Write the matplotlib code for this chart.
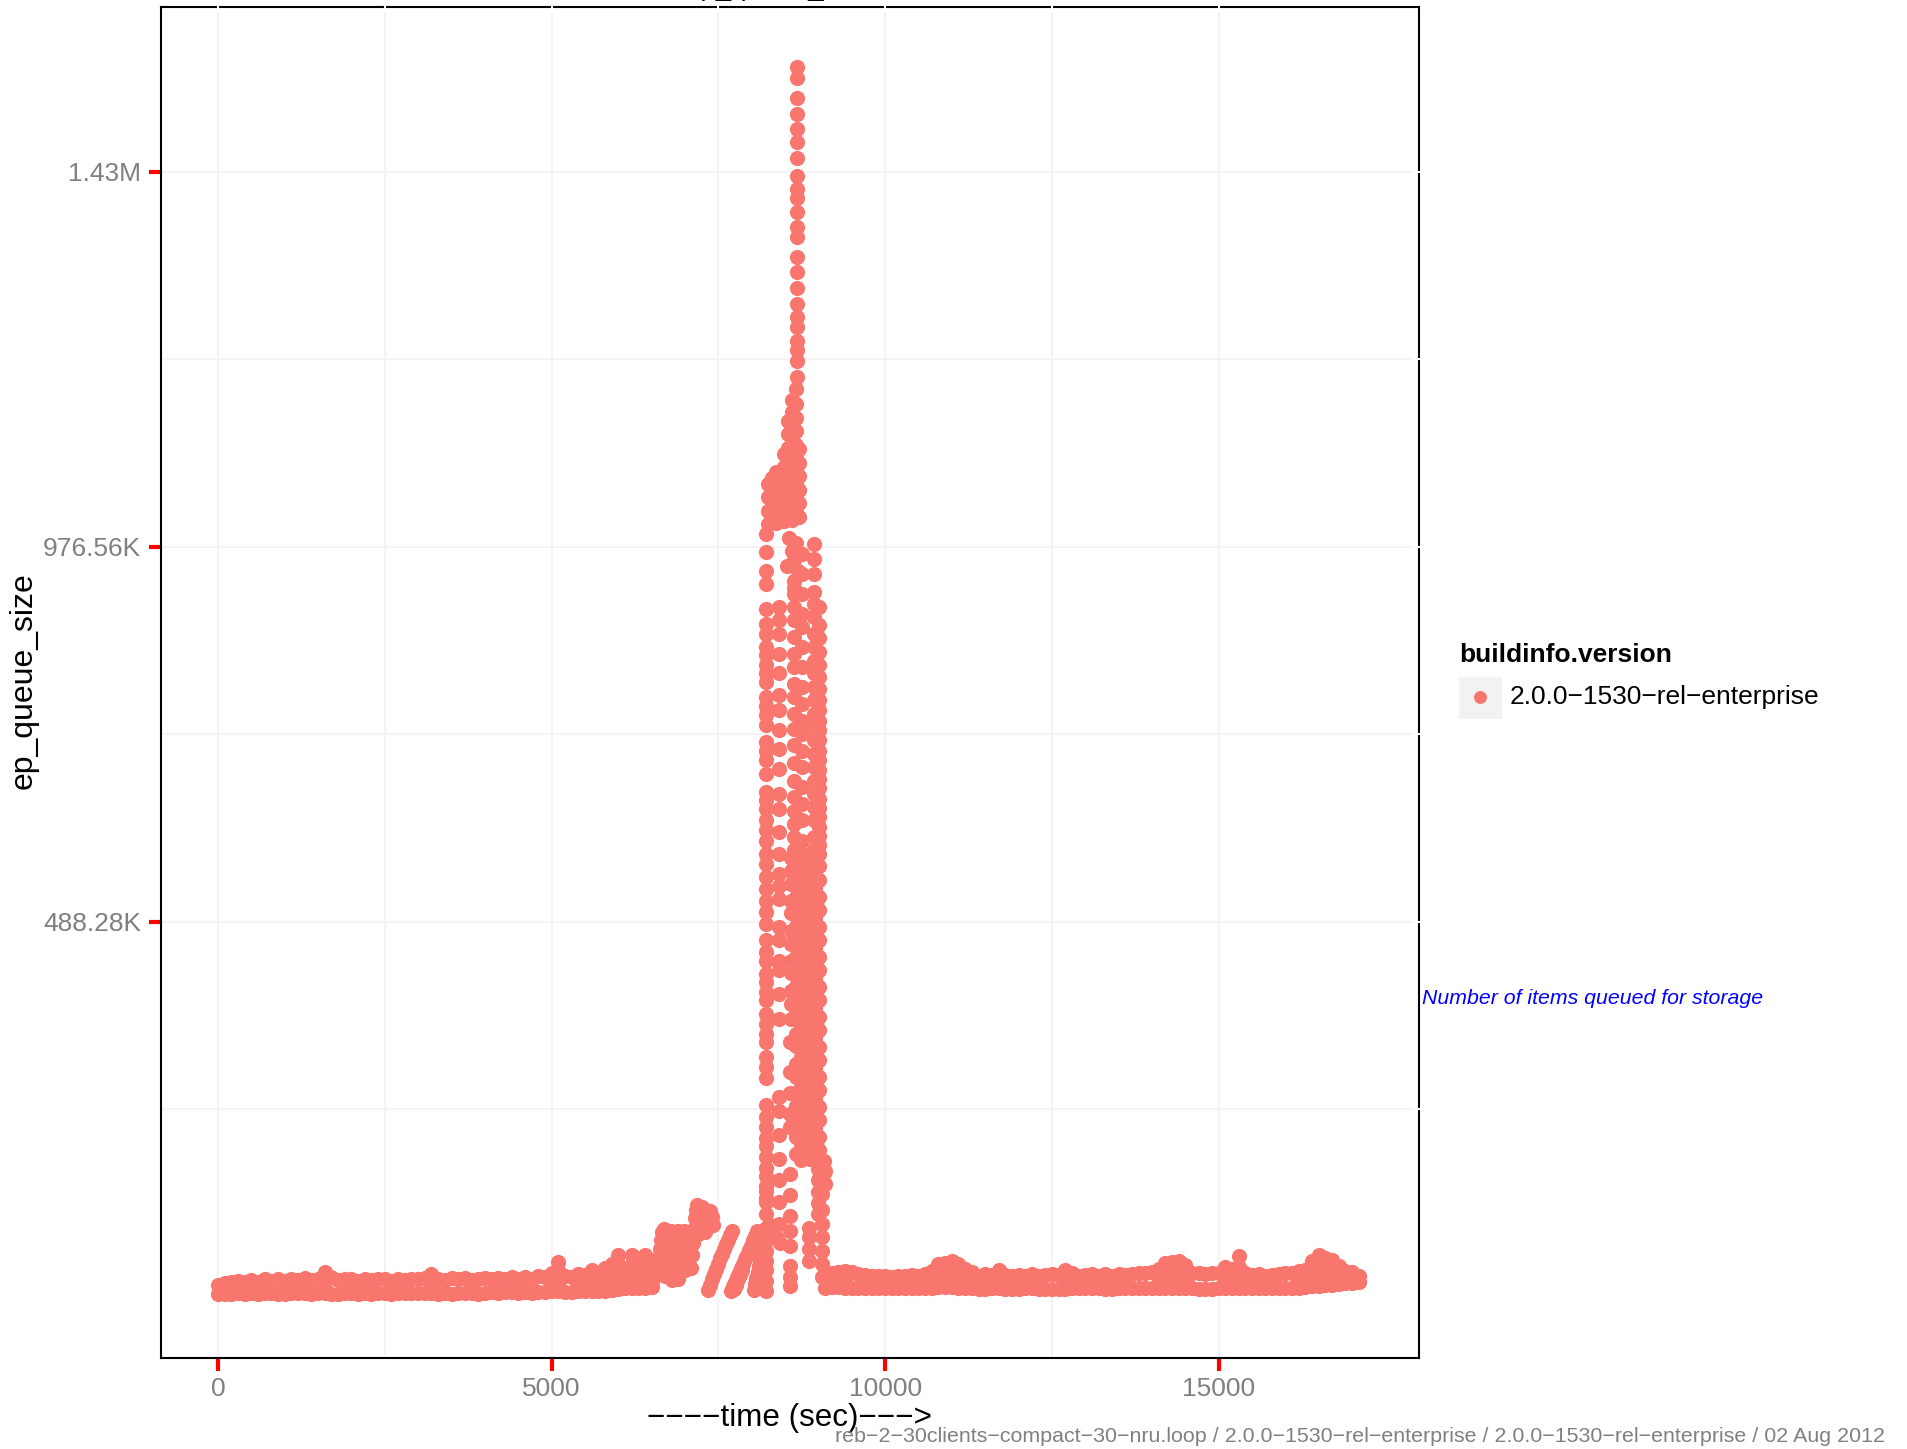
import numpy as np
import matplotlib.pyplot as plt
from matplotlib.patches import Rectangle
from matplotlib.lines import Line2D

plt.rcParams['font.family'] = ['Liberation Sans', 'DejaVu Sans']

# ---- data (time in sec, queue size in thousands of items) ----
# baseline before the rebalance: low / high samples every 100 s from t=0
base_a_start, base_a_step = 0, 100
base_a_lo = [3, 4, 4, 5, 4, 5, 4, 5, 5, 4,
             4, 5, 5, 5, 4, 5, 5, 4, 4, 5,
             5, 4, 5, 4, 5, 5, 4, 5, 5, 5,
             5, 5, 5, 4, 5, 4, 5, 5, 5, 4,
             5, 6, 5, 6, 6, 5, 6, 5, 6, 6,
             7, 7, 6, 6, 7, 7, 7, 8, 8, 9,
             10, 11, 11, 11, 12, 13]
base_a_hi = [15, 18, 19, 21, 19, 22, 20, 23, 21, 23,
             21, 23, 22, 25, 22, 24, 33, 26, 22, 24,
             23, 21, 24, 22, 24, 23, 21, 24, 22, 24,
             23, 25, 30, 23, 22, 25, 23, 25, 22, 24,
             25, 23, 25, 24, 26, 23, 26, 24, 27, 26,
             32, 46, 28, 26, 30, 29, 36, 30, 38, 43,
             55, 33, 55, 35, 55, 33]

# baseline after the spike: low / high samples every 100 s from t=9100
base_b_start, base_b_step = 9100, 100
base_b_lo = [12, 13, 13, 12, 12, 11, 11, 11, 11, 12,
             11, 11, 12, 12, 12, 12, 12, 13, 13, 13,
             12, 12, 11, 10, 10, 11, 11, 10, 10, 10,
             11, 11, 10, 10, 10, 10, 10, 11, 11, 11,
             11, 11, 10, 10, 11, 11, 11, 11, 11, 12,
             12, 12, 12, 12, 11, 11, 10, 10, 10, 11,
             11, 11, 11, 12, 12, 11, 11, 11, 11, 11,
             12, 12, 13, 14, 14, 15, 16, 17, 18, 18,
             19]
base_b_hi = [28, 31, 33, 34, 33, 30, 29, 27, 28, 27,
             26, 28, 27, 29, 27, 30, 34, 43, 45, 48,
             43, 37, 33, 28, 30, 29, 35, 29, 28, 29,
             28, 30, 28, 29, 30, 29, 35, 31, 28, 29,
             30, 28, 30, 28, 30, 29, 30, 31, 32, 33,
             37, 45, 46, 47, 42, 32, 31, 30, 31, 32,
             39, 37, 54, 32, 29, 30, 28, 29, 30, 31,
             32, 34, 35, 47, 55, 52, 49, 41, 34, 33,
             27]

# extra samples inside the baseline bumps
bump_t = [1600, 1600, 3200, 5000, 5100, 5100, 5100, 5400, 5500, 5600, 5600, 5700,
          5800, 5800, 5900, 5900, 6000, 6000, 6000, 6100, 6200, 6200, 6200, 6300,
          6400, 6400, 6400, 6500,
          9200, 9300, 9400, 10700, 10800, 10800, 10900, 10900, 11000, 11000, 11100,
          11100, 11200, 11700, 12700,
          14100, 14200, 14200, 14300, 14300, 14400, 14400, 14500, 14500,
          15100, 15200, 15300, 15300, 15300, 16200, 16300, 16400, 16400,
          16500, 16500, 16500, 16600, 16600, 16700, 16700, 16800]
bump_k = [12, 21, 17, 18, 15, 26, 35, 18, 18, 18, 26, 19,
          20, 28, 22, 31, 21, 33, 43, 20, 22, 33, 43, 20,
          22, 33, 43, 20,
          22, 23, 23, 22, 24, 33, 25, 35, 26, 36, 25,
          33, 24, 23, 23,
          24, 24, 33, 25, 34, 25, 34, 24, 31,
          24, 25, 20, 30, 40, 23, 24, 24, 35,
          25, 37, 46, 26, 37, 27, 37, 27]

# rising ramps 6500-7450 s
ramp_t = [6560, 6580, 6600, 6620, 6640, 6660, 6680, 6700, 6715, 6730, 6745, 6760, 6775, 6790,
          6800, 6815, 6830, 6845, 6860, 6875, 6890, 6900, 6915, 6930, 6945, 6960, 6975, 6990,
          7000, 7015, 7030, 7045, 7060, 7075, 7090, 7105, 7120, 7135, 7150, 7165, 7180,
          7200, 7220, 7240, 7260, 7280, 7300, 7320, 7340, 7360, 7380, 7400, 7420]
ramp_k = [30, 40, 52, 64, 76, 86, 90, 28, 40, 52, 64, 76, 85, 88,
          22, 34, 46, 58, 70, 80, 87, 24, 36, 48, 60, 72, 82, 88,
          35, 46, 57, 68, 78, 86, 38, 55, 72, 90, 105, 116, 122,
          84, 98, 110, 119, 116, 86, 97, 106, 112, 114, 106, 96]

# slanted stripes 7340-8430 s
stripe_t = [7340, 7370, 7400, 7430, 7460, 7490, 7520, 7550, 7580, 7610, 7640, 7670, 7700,
            7690, 7720, 7750, 7780, 7810, 7840, 7870, 7900, 7930, 7960, 7990, 8020, 8050, 8080,
            7740, 7770, 7800, 7830, 7860,
            8030, 8050, 8070, 8090, 8110, 8130, 8150, 8170, 8190, 8210, 8230,
            8260, 8280, 8300, 8340, 8380, 8420]
stripe_k = [9, 16, 23, 30, 37, 44, 51, 57, 63, 70, 76, 82, 88,
            8, 14, 20, 26, 32, 38, 44, 50, 56, 62, 68, 75, 81, 87,
            10, 16, 23, 29, 35,
            9, 17, 25, 33, 41, 49, 57, 65, 73, 81, 89,
            95, 78, 88, 82, 78, 72]

# dotted columns inside the spike
col_a_t = 8210
col_a_k = [8, 21, 35, 48, 61, 77, 92, 110, 126, 132, 141, 148, 161, 172, 186, 201, 212, 226,
           239, 255, 292, 306, 319, 339, 350, 364, 377, 395, 406, 419, 430, 448, 460, 476,
           497, 513, 528, 544, 559, 577, 590, 608, 622, 635, 650, 662, 673, 697, 715, 728,
           739, 762, 775, 788, 799, 819, 831, 842, 855, 866, 884, 897, 917, 951, 968, 993, 1017]
col_b_t = 8415
col_b_k = [97, 126, 155, 183, 215, 248, 266, 370, 404, 435, 448, 475, 493, 530, 548, 564,
           590, 619, 650, 670, 704, 730, 755, 782, 802, 831, 857, 884, 902, 920]
col_c_t = 8580
col_c_k = [14, 26, 41, 68, 88, 108, 135, 164, 226, 244, 271, 299, 339]
col_c2_t = 8631
col_c2_k = [595, 613, 630, 648, 666, 688, 711, 735, 757, 777, 799, 817, 839, 857, 880,
            902, 920, 937, 955, 982]
col_d_t = 8756
col_d_k = [590, 608, 635, 657, 679, 706, 728, 750, 768, 790, 813, 839, 866, 893, 911,
           937, 964, 991]
col_e_t = 8930
col_e_k = [595, 613, 635, 653, 670, 688, 706, 724, 742, 759, 777, 795, 813, 831, 848,
           866, 884, 906, 924, 940, 964, 984, 1004]
col_f_t = 9005
col_f_k = [590, 602, 614, 626, 640, 652, 664, 678, 690, 702, 716, 728, 742, 755, 768,
           782, 795, 810, 826, 842, 860, 878, 896, 920]
peak_t = 8683
peak_k = [1227, 1248, 1262, 1275, 1293, 1306, 1324, 1345, 1367, 1387, 1413, 1427, 1446,
          1465, 1477, 1495, 1519, 1540, 1557, 1577, 1599, 1625, 1640]

# dense block 180k-580k
dense_t = [8595, 8665, 8735, 8805, 8875, 8945, 9015]
dense_k = [
    [370, 390, 408, 431, 447, 470, 488, 511, 527, 550, 567, 585],
    [190, 213, 230, 254, 270, 293, 310, 334, 350, 373, 390, 414, 430, 453, 470, 494, 510, 533, 550, 574],
    [182, 200, 223, 240, 263, 280, 303, 320, 343, 360, 383, 400, 423, 440, 463, 480, 503, 520, 543, 560, 582],
    [188, 210, 227, 250, 267, 290, 307, 330, 347, 370, 387, 410, 427, 450, 467, 490, 507, 530, 547, 570],
    [183, 201, 224, 241, 264, 281, 304, 321, 344, 361, 384, 401, 424, 441, 464, 481, 504, 521, 544, 561, 583],
    [186, 208, 225, 248, 265, 288, 305, 328, 345, 368, 385, 408, 425, 448, 465, 488, 505, 528, 545, 568],
    [195, 213, 236, 253, 276, 293, 316, 333, 356, 373, 396, 413, 436, 453, 476, 493, 516, 533, 556, 574],
]

# dense cluster near 1.03M-1.21M
cluster_t = [8240, 8300, 8360, 8420, 8480, 8540, 8600, 8660, 8710]
cluster_k = [
    [1030, 1048, 1066, 1084],
    [1038, 1056, 1074, 1092],
    [1032, 1050, 1068, 1086, 1100],
    [1040, 1058, 1076, 1094],
    [1034, 1052, 1070, 1088, 1106, 1124],
    [1042, 1060, 1078, 1096, 1114, 1132, 1150, 1168],
    [1036, 1054, 1072, 1090, 1108, 1126, 1144, 1162, 1180, 1196],
    [1046, 1064, 1082, 1100, 1118, 1136, 1154, 1172, 1190, 1210],
    [1040, 1058, 1076, 1094, 1112, 1130],
]

# scattered points around the spike
extra_t = [8560, 8610, 8700, 8660, 8640, 8530, 8860, 8860, 8860, 8860,
           8990, 8990, 8990, 8990, 8990, 9060, 9060, 9060, 9060, 9060, 9060, 9060,
           9080, 9080, 9080, 9100, 9100]
extra_k = [1012, 995, 968, 1005, 945, 975, 48, 63, 79, 92,
           110, 125, 140, 155, 170, 26, 43, 61, 79, 97, 115, 137,
           150, 165, 181, 150, 168]

x_ticks = [0, 5000, 10000, 15000]
y_ticks = [500000, 1000000, 1500000]
y_tick_labels = ['488.28K', '976.56K', '1.43M']
x_minor = [2500, 7500, 12500]
y_minor = [250000, 750000, 1250000]

legend_title = 'buildinfo.version'
series_name = '2.0.0\u22121530\u2212rel\u2212enterprise'
footer = ('reb\u22122\u221230clients\u2212compact\u221230\u2212nru.loop / 2.0.0\u22121530\u2212rel\u2212enterprise'
          ' / 2.0.0\u22121530\u2212rel\u2212enterprise / 02 Aug 2012')

# ---- assemble all points ----
ts, vs = [], []
for start, step, lo, hi in [(base_a_start, base_a_step, base_a_lo, base_a_hi),
                            (base_b_start, base_b_step, base_b_lo, base_b_hi)]:
    tt = [start + step * i for i in range(len(lo))]
    ts += tt + tt
    vs += lo + hi
ts += bump_t; vs += bump_k
ts += ramp_t; vs += ramp_k
ts += stripe_t; vs += stripe_k
for t0, col in [(col_a_t, col_a_k), (col_b_t, col_b_k), (col_c_t, col_c_k),
                (col_c2_t, col_c2_k), (col_d_t, col_d_k), (col_e_t, col_e_k),
                (col_f_t, col_f_k), (peak_t, peak_k)]:
    ts += [t0] * len(col); vs += col
for t0, col in zip(dense_t, dense_k):
    ts += [t0] * len(col); vs += col
for t0, col in zip(cluster_t, cluster_k):
    ts += [t0] * len(col); vs += col
ts += extra_t; vs += extra_k

ts = np.array(ts, dtype=float)
vs = np.array(vs, dtype=float) * 1000

point_color = '#F8766D'
point_size = 120  # points^2

fig = plt.figure(figsize=(19.08, 14.49), dpi=100)
ax = fig.add_axes([0.0842, 0.0628, 0.6594, 0.9324])

ax.scatter(ts, vs, s=point_size, color=point_color, linewidths=0, zorder=3)

ax.set_xlim(-860, 18000)
ax.set_ylim(-82000, 1720000)

ax.set_xticks(x_ticks)
ax.set_xticklabels([str(x) for x in x_ticks])
ax.set_yticks(y_ticks)
ax.set_yticklabels(y_tick_labels)
ax.set_xticks(x_minor, minor=True)
ax.set_yticks(y_minor, minor=True)
ax.tick_params(which='major', direction='out', length=9, width=3, color='red',
               labelcolor='#808080', labelsize=19, pad=5)
ax.tick_params(which='minor', length=0)
ax.grid(True, which='both', color='#f3f3f3', linewidth=1.3)
ax.set_axisbelow(True)
for sp in ax.spines.values():
    sp.set_color('black')
    sp.set_linewidth(1.5)

# small white notches on top / right border at the grid positions
for xv in x_ticks + x_minor:
    ax.plot([xv, xv], [0.997, 1.003], color='white', lw=1.5,
            transform=ax.get_xaxis_transform(), clip_on=False, zorder=6)
for yv in y_ticks + y_minor:
    ax.plot([0.997, 1.003], [yv, yv], color='white', lw=1.5,
            transform=ax.get_yaxis_transform(), clip_on=False, zorder=6)

# titles (main title sits above the canvas, only its descenders show)
fig.text(0.4088, 1 + 5 / 1449, 'ep_queue_size', ha='center', va='baseline', fontsize=20)
fig.text(789.7 / 1908, 1 - 1418 / 1449, '\u2212\u2212\u2212\u2212time (sec)\u2212\u2212\u2212>',
         ha='center', va='center', fontsize=22.6)
fig.text(24 / 1908, 1 - 681 / 1449, 'ep_queue_size', rotation=90,
         ha='center', va='center', fontsize=23)

# legend
fig.text(1459 / 1908, 1 - 655 / 1449, legend_title, fontweight='bold', fontsize=19,
         ha='left', va='center')
fig.add_artist(Rectangle((1459 / 1908, 1 - 719 / 1449), 42.6 / 1908, 42.5 / 1449,
                         transform=fig.transFigure, facecolor='#f2f2f2', edgecolor='none'))
fig.add_artist(Line2D([1480 / 1908], [1 - 697 / 1449], marker='o',
                      markersize=point_size ** 0.5 * 0.85,
                      color=point_color, markeredgewidth=0, transform=fig.transFigure))
fig.text(1510 / 1908, 1 - 697 / 1449, series_name, fontsize=19, ha='left', va='center')

# annotation and footer
fig.text(1422 / 1908, 1 - 998 / 1449, 'Number of items queued for storage', color='blue',
         style='italic', fontsize=15.3, ha='left', va='center')
fig.text(1885 / 1908, 1 - 1437 / 1449, footer, color='#808080', fontsize=15.4,
         ha='right', va='center')

fig.savefig('out.png', dpi=100)
